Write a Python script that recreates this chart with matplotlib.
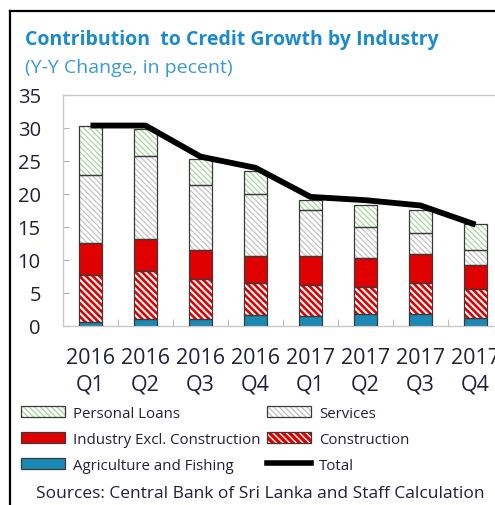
import matplotlib
matplotlib.use("Agg")
import matplotlib.pyplot as plt
from matplotlib.patches import Patch
from matplotlib.lines import Line2D
import numpy as np

plt.rcParams['font.family'] = ['Open Sans', 'DejaVu Sans']
plt.rcParams['hatch.linewidth'] = 1.0

quarters = ["2016\nQ1", "2016\nQ2", "2016\nQ3", "2016\nQ4",
            "2017\nQ1", "2017\nQ2", "2017\nQ3", "2017\nQ4"]
agriculture = [0.5, 1.0, 1.0, 1.6, 1.5, 1.7, 1.7, 1.2]
construction = [7.1, 7.3, 6.0, 4.9, 4.7, 4.2, 4.7, 4.3]
industry = [4.9, 4.8, 4.5, 4.0, 4.3, 4.3, 4.4, 3.7]
services = [10.3, 12.6, 9.8, 9.5, 7.0, 4.7, 3.3, 2.3]
personal = [7.4, 4.1, 4.0, 3.4, 1.6, 3.3, 3.4, 3.9]
total = [30.3, 30.3, 25.6, 23.9, 19.5, 19.0, 18.2, 15.3]

W, H = 495, 506
fig = plt.figure(figsize=(W / 100, H / 100), dpi=100)
ax = fig.add_axes([63 / W, 1 - 326.7 / H, (503 - 63) / W, (326.7 - 95.5) / H])

x = np.arange(len(quarters))
bw = 0.42
edge = '#3a3a3a'

LIGHT_HATCH = '\\' * 6
RED_HATCH = '\\' * 5


def set_hlw(p, lw):
    if hasattr(p, 'set_hatch_linewidth'):
        p.set_hatch_linewidth(lw)


series = [
    (agriculture, '#1a8ab4', None, None, 0),
    (construction, '#e00000', '#ffffff', RED_HATCH, 1.5),
    (industry, '#e00000', None, None, 0),
    (services, '#ffffff', '#c4c4c4', LIGHT_HATCH, 0.9),
    (personal, '#ffffff', '#a9d6a0', LIGHT_HATCH, 0.9),
]
bottom = np.zeros(len(x))
for vals, fc, hc, hatch, hlw in series:
    v = np.array(vals)
    if hatch:
        bars = ax.bar(x, v, bw, bottom=bottom, facecolor=fc, edgecolor=hc,
                      hatch=hatch, linewidth=0, zorder=2)
        for b in bars:
            set_hlw(b, hlw)
    else:
        ax.bar(x, v, bw, bottom=bottom, facecolor=fc, linewidth=0, zorder=2)
    ax.bar(x, v, bw, bottom=bottom, fill=False, edgecolor=edge,
           linewidth=0.9, zorder=3)
    bottom += v

ax.plot(x, total, color='black', linewidth=4.2, zorder=4, solid_capstyle='butt')

ax.set_xlim(-0.5, 7.5)
ax.set_ylim(0, 35)
ax.set_yticks(range(0, 36, 5))
ax.set_xticks(x)
ax.set_xticklabels(quarters)
ax.set_xticks(np.arange(0.5, 7.5, 1), minor=True)
lab_col = '#202038'
ax.tick_params(axis='y', direction='in', length=4, color='#b0b0b0',
               labelsize=14.5, labelcolor=lab_col, pad=16)
ax.tick_params(axis='x', which='major', length=0, labelsize=15.5,
               labelcolor=lab_col, pad=15)
ax.tick_params(axis='x', which='minor', direction='in', length=5,
               color='#b0b0b0')
for s in ax.spines.values():
    s.set_color('#c8c8c8')
    s.set_linewidth(1.0)
for lbl in ax.get_xticklabels():
    lbl.set_linespacing(1.35)

# Titles
fig.text(25 / W, 1 - 40 / H, "Contribution  to Credit Growth by Industry",
         fontsize=14, fontweight='bold', color='#1b8bcb', va='center', ha='left')
fig.text(25 / W, 1 - 68 / H, "(Y-Y Change, in pecent)",
         fontsize=14, color='#3a9bd2', va='center', ha='left')


# Legend
def hp(fc, hc, hatch, hlw=1.0):
    if hatch:
        p = Patch(facecolor=fc, edgecolor=hc, hatch=hatch, linewidth=0)
        set_hlw(p, hlw)
        return (p, Patch(fill=False, edgecolor=edge, linewidth=0.9))
    return Patch(facecolor=fc, edgecolor=edge, linewidth=0.9)


handles = [hp('#ffffff', '#a9d6a0', LIGHT_HATCH, 0.9),
           hp('#e00000', None, None),
           hp('#1a8ab4', None, None),
           hp('#ffffff', '#c4c4c4', LIGHT_HATCH, 0.9),
           hp('#e00000', '#ffffff', RED_HATCH, 1.5),
           Line2D([], [], color='black', linewidth=4)]
labels = ["Personal Loans", "Industry Excl. Construction", "Agriculture and Fishing",
          "Services", "Construction", "Total"]
leg = fig.legend(handles, labels, ncol=2, loc='upper left',
                 bbox_to_anchor=(21 / W, 1 - 407 / H), frameon=False,
                 fontsize=10.8, handlelength=2.95, handleheight=0.75,
                 handletextpad=0.5, columnspacing=0.45, labelspacing=0.72,
                 borderaxespad=0, borderpad=0)
for t in leg.get_texts():
    t.set_color('#202038')

fig.text(260 / W, 1 - 494 / H, "Sources: Central Bank of Sri Lanka and Staff Calculation",
         fontsize=12.5, color='#202038', va='center', ha='center')

# Figure border (top and left visible)
fig.add_artist(Line2D([10 / W, 1.0], [1 - 12 / H, 1 - 12 / H], color='black',
                      linewidth=1.6, transform=fig.transFigure))
fig.add_artist(Line2D([10 / W, 10 / W], [1 - 12 / H, 0], color='black',
                      linewidth=1.6, transform=fig.transFigure))

fig.savefig("out.png", dpi=100)
